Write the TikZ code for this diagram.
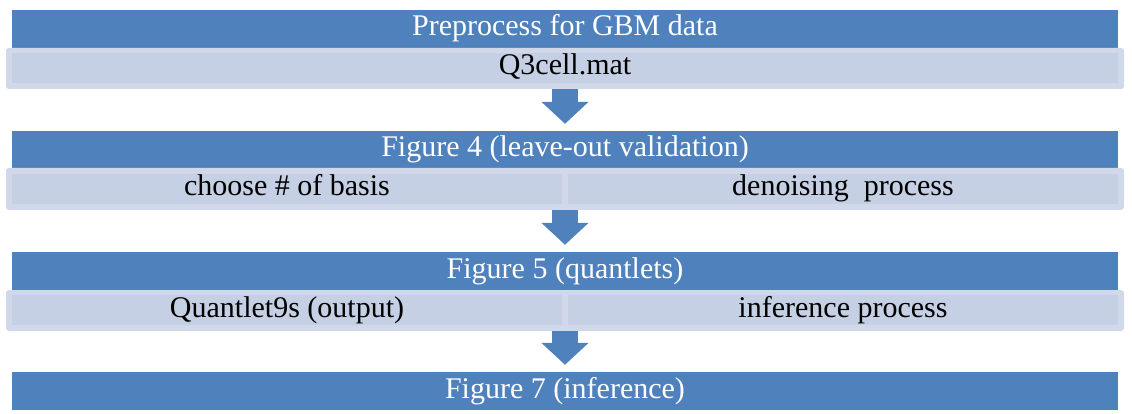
\documentclass[tikz,border=0pt]{standalone}
\usepackage{fontspec}
\setmainfont{Liberation Serif}
\usepackage{xcolor}
\usetikzlibrary{arrows.meta}
\definecolor{hdrblue}{RGB}{79,129,189}
\definecolor{cellfill}{RGB}{197,208,228}
\definecolor{celledge}{RGB}{208,216,234}

\begin{document}
\begin{tikzpicture}[x=1pt, y=-1pt,
    hdr/.style={fill=hdrblue, text=white, minimum width=1106pt, minimum height=38pt, inner sep=0pt,
        font=\fontsize{30pt}{36pt}\selectfont, text height=21pt, text depth=7pt},
    band/.style={fill=celledge, rounded corners=3pt, minimum width=1118pt, minimum height=41pt, inner sep=0pt},
    cell/.style={fill=cellfill, minimum height=30pt, inner sep=0pt,
        font=\fontsize{30pt}{36pt}\selectfont, text height=21pt, text depth=7pt},
    blockarr/.style={draw=hdrblue, line width=26pt, shorten >=7pt,
        -{Triangle[width=46pt, length=22pt]}}]
            \useasboundingbox (0,0) rectangle (1132,414);
            \node[hdr] (h1) at (565,29) {Preprocess for GBM data};
            \node[band] (s1) at (565,68.5) {};
            \node[cell, minimum width=1106pt] (c1) at (565,68) {Q3cell.mat};
            \node[hdr, minimum height=37pt] (h2) at (565,149.5) {Figure 4 (leave-out validation)};
            \node[band, minimum height=42pt] (s2) at (565,189) {};
            \node[cell, minimum width=550pt] (c2a) at (287,189) {choose \# of basis};
            \node[cell, minimum width=550pt] (c2b) at (843,189) {denoising\ \ process};
            \node[hdr] (h3) at (565,271) {Figure 5 (quantlets)};
            \node[band] (s3) at (565,310.5) {};
            \node[cell, minimum width=550pt] (c3a) at (287,310) {Quantlet9s (output)};
            \node[cell, minimum width=550pt] (c3b) at (843,310) {inference process};
            \node[hdr] (h4) at (565,391) {Figure 7 (inference)};
            \foreach \a/\b in {s1/h2, s2/h3, s3/h4} {
                \draw[blockarr] (\a) -- (\b);
            }
        \end{tikzpicture}
\end{document}
